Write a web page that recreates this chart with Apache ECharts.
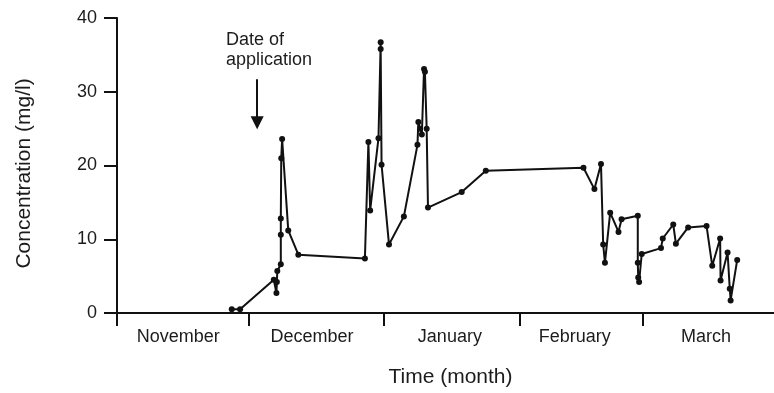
<!DOCTYPE html>
<html>
<head>
<meta charset="utf-8">
<script src="https://cdn.jsdelivr.net/npm/echarts@6/dist/echarts.min.js"></script>
<style>html,body{margin:0;padding:0;background:#fff;}#c{width:774px;height:393px;}</style>
</head>
<body>
<div id="c"></div>
<script>
// Days since 1 November
var days = [26.2, 28.1, 35.8, 36.4, 36.5, 36.6, 37.4, 37.4, 37.4, 37.5, 37.7, 39.1, 41.4,
  56.6, 57.4, 57.8, 59.7, 60.2, 60.2, 60.4, 62.1, 65.5, 68.6, 68.8, 69.2, 69.6, 70.1, 70.3, 70.7, 71.0,
  78.7, 84.2, 106.5, 109.0, 110.5, 111.0, 111.4, 112.6, 114.5, 115.2, 118.9, 118.9, 119.0, 119.2, 119.8,
  124.2, 124.6, 127.0, 127.6, 130.4, 134.6, 135.9, 137.7, 137.8, 139.4, 139.9, 140.1, 141.6];
var concentration = [0.5, 0.5, 4.5, 2.7, 4.2, 5.7, 6.6, 10.6, 12.8, 21.0, 23.6, 11.2, 7.9,
  7.4, 23.2, 13.9, 23.7, 36.7, 35.8, 20.1, 9.3, 13.1, 22.8, 25.9, 25.0, 24.2, 33.1, 32.7, 25.0, 14.3,
  16.4, 19.3, 19.7, 16.8, 20.2, 9.3, 6.8, 13.6, 11.0, 12.7, 13.2, 6.8, 4.8, 4.2, 8.0,
  8.8, 10.1, 12.0, 9.4, 11.6, 11.8, 6.4, 10.1, 4.4, 8.2, 3.3, 1.7, 7.2];
var monthNames = ['November', 'December', 'January', 'February', 'March'];
var monthStartDays = [0, 30, 61, 92, 120];
var monthLabelDays = [14, 44.5, 76, 104.5, 134.5];
var yTicks = [0, 10, 20, 30, 40];
var applicationDay = 32;
var arrowFrom = 31.7, arrowShaftEnd = 26.3, arrowHead = 25.8;

var data = days.map(function (d, i) { return [d, concentration[i]]; });
var txt = '#1c1c1c';
var font = 'Liberation Sans';

var chart = echarts.init(document.getElementById('c'), null, {renderer: 'canvas'});
chart.setOption({
  backgroundColor: '#ffffff',
  animation: false,
  grid: {left: 117, right: 0, top: 18, bottom: 77, containLabel: false},
  xAxis: {
    type: 'value', min: 0, max: 150,
    name: 'Time (month)', nameLocation: 'middle', nameGap: 54,
    nameTextStyle: {fontFamily: font, fontSize: 21, color: txt, padding: [0, 0, 0, 10]},
    axisLine: {show: true, lineStyle: {color: '#111', width: 2}},
    axisTick: {show: true, customValues: monthStartDays, length: 13, lineStyle: {color: '#111', width: 2}},
    axisLabel: {
      customValues: monthLabelDays, margin: 15,
      fontFamily: font, fontSize: 18, color: txt,
      formatter: function (v) { var i = monthLabelDays.indexOf(v); return i >= 0 ? monthNames[i] : ''; }
    },
    splitLine: {show: false}
  },
  yAxis: {
    type: 'value', min: 0, max: 40, interval: 10,
    name: 'Concentration (mg/l)', nameLocation: 'middle', nameGap: 82,
    nameTextStyle: {fontFamily: font, fontSize: 21, color: txt, padding: [0, 16, 0, 0]},
    axisLine: {show: true, lineStyle: {color: '#111', width: 2}},
    axisTick: {show: true, length: 13, lineStyle: {color: '#111', width: 2}},
    axisLabel: {margin: 20, fontFamily: font, fontSize: 18, color: txt,
      formatter: function (v) { return yTicks.indexOf(v) >= 0 ? String(v) : ''; }},
    splitLine: {show: false}
  },
  series: [{
    type: 'line', data: data,
    symbol: 'circle', symbolSize: 6,
    lineStyle: {color: '#111', width: 2},
    itemStyle: {color: '#111'},
    markLine: {
      silent: true, symbol: ['none', 'none'],
      lineStyle: {color: '#111', width: 2, type: 'solid'},
      label: {show: false},
      data: [[{coord: [applicationDay, arrowFrom]}, {coord: [applicationDay, arrowShaftEnd]}]]
    },
    markPoint: {
      silent: true,
      data: [{coord: [applicationDay, arrowHead], symbol: 'triangle', symbolRotate: 180,
        symbolSize: [13, 13], itemStyle: {color: '#111'}, label: {show: false}}]
    }
  }],
  graphic: [{
    type: 'text', left: 226, top: 30,
    style: {text: 'Date of\napplication', font: '18px "Liberation Sans"', fill: txt, lineHeight: 20}
  }]
});
</script>
</body>
</html>
